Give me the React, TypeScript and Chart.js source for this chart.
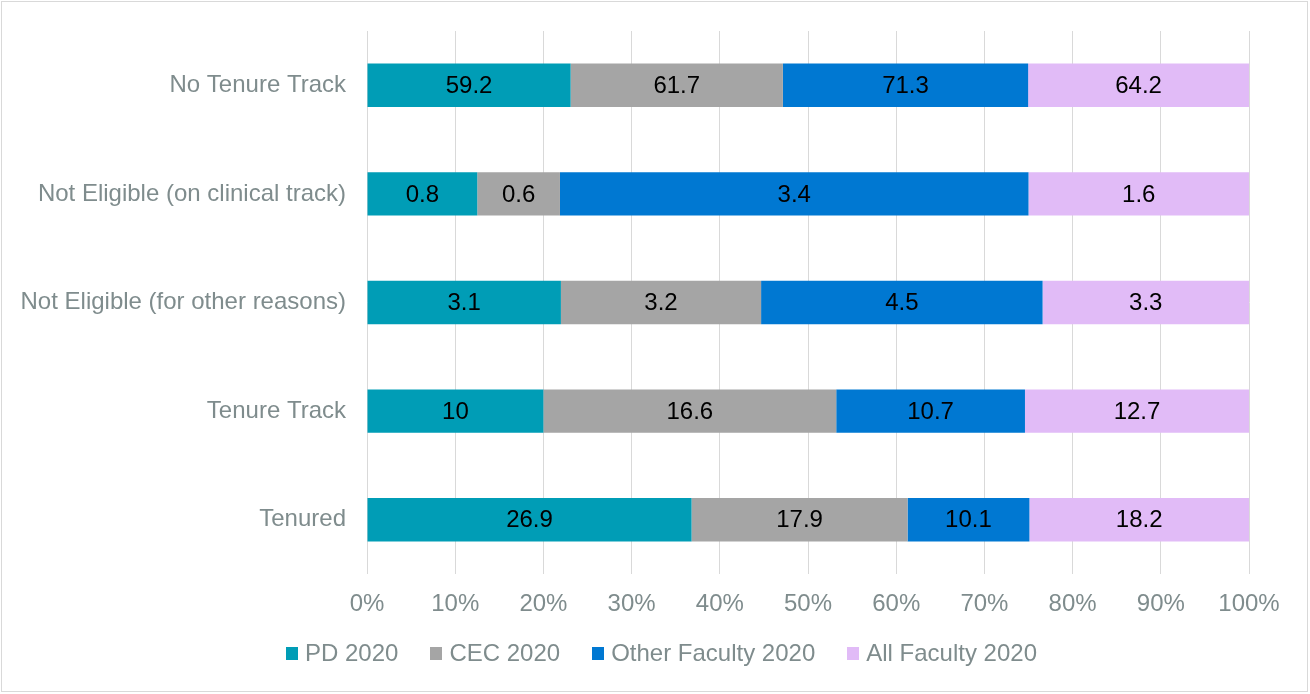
import React, { useEffect, useRef } from "react";
import { Chart, registerables } from "chart.js";

Chart.register(...registerables);

const categories = [
  "No Tenure Track",
  "Not Eligible (on clinical track)",
  "Not Eligible (for other reasons)",
  "Tenure Track",
  "Tenured",
];
const pd2020 = [59.2, 0.8, 3.1, 10, 26.9];
const cec2020 = [61.7, 0.6, 3.2, 16.6, 17.9];
const otherFaculty2020 = [71.3, 3.4, 4.5, 10.7, 10.1];
const allFaculty2020 = [64.2, 1.6, 3.3, 12.7, 18.2];
const xTickValues = [0, 10, 20, 30, 40, 50, 60, 70, 80, 90, 100];

const seriesNames = ["PD 2020", "CEC 2020", "Other Faculty 2020", "All Faculty 2020"];
const seriesColors = ["#009DB6", "#A5A5A5", "#0078D2", "#E1BBF7"];
const seriesRaw = [pd2020, cec2020, otherFaculty2020, allFaculty2020];

const FONT = "'Liberation Sans', Arial, sans-serif";
const TEXT_GRAY = "#7F8C8D";

const totals = categories.map((_, i) => seriesRaw.reduce((s, arr) => s + arr[i], 0));

const dataLabelPlugin = {
  id: "dataLabels",
  afterDatasetsDraw(chart: any) {
    const ctx = chart.ctx;
    ctx.save();
    ctx.font = `24px ${FONT}`;
    ctx.fillStyle = "#000000";
    ctx.textAlign = "center";
    ctx.textBaseline = "middle";
    chart.data.datasets.forEach((ds: any, di: number) => {
      const meta = chart.getDatasetMeta(di);
      meta.data.forEach((el: any, i: number) => {
        const raw = ds.rawValues[i];
        const cx = (el.x + el.base) / 2;
        ctx.fillText(String(raw), cx, el.y + 1);
      });
    });
    ctx.restore();
  },
};

export default function App() {
  const canvasRef = useRef<HTMLCanvasElement | null>(null);

  useEffect(() => {
    if (!canvasRef.current) return;
    const chart = new Chart(canvasRef.current, {
      type: "bar",
      data: {
        labels: categories,
        datasets: seriesRaw.map((arr, si) => ({
          label: seriesNames[si],
          data: arr.map((v, i) => (v / totals[i]) * 100),
          rawValues: arr,
          backgroundColor: seriesColors[si],
          borderWidth: 0,
          barPercentage: 0.4,
          categoryPercentage: 1,
        })) as any,
      },
      options: {
        indexAxis: "y",
        animation: false,
        responsive: false,
        maintainAspectRatio: false,
        layout: { padding: { top: 31, right: 61, left: 0, bottom: 0 } },
        plugins: {
          legend: { display: false },
          tooltip: { enabled: false },
        },
        scales: {
          x: {
            stacked: true,
            min: 0,
            max: 100,
            afterFit: (scale: any) => {
              scale.height = 120;
              scale.paddingLeft = 0;
              scale.paddingRight = 0;
            },
            afterBuildTicks: (scale: any) => {
              scale.ticks = xTickValues.map((v) => ({ value: v }));
            },
            grid: { color: "#D9D9D9", lineWidth: 1, drawTicks: false },
            border: { display: false },
            ticks: {
              padding: 16,
              color: TEXT_GRAY,
              font: { family: FONT, size: 24 },
              callback: (v: any) => `${v}%`,
              maxRotation: 0,
            },
          },
          y: {
            stacked: true,
            afterFit: (scale: any) => {
              scale.width = 367;
              scale.paddingTop = 0;
              scale.paddingBottom = 0;
            },
            grid: { display: false, drawTicks: false },
            border: { display: false },
            ticks: {
              padding: 21,
              color: TEXT_GRAY,
              font: { family: FONT, size: 24 },
            },
          },
        },
      } as any,
      plugins: [dataLabelPlugin],
    });
    return () => chart.destroy();
  }, []);

  return (
    <div style={{ position: "fixed", left: 0, top: 0, width: 1310, height: 694, background: "#FFFFFF" }}>
      <canvas ref={canvasRef} width={1310} height={694} style={{ position: "absolute", left: 0, top: 0 }} />
      <div
        style={{
          position: "absolute",
          left: 1,
          top: 1,
          width: 1307,
          height: 691,
          boxSizing: "border-box",
          border: "1px solid #D9D9D9",
          pointerEvents: "none",
        }}
      />
      <div
        style={{
          position: "absolute",
          left: 286,
          top: 641,
          display: "flex",
          alignItems: "center",
          height: 24,
          whiteSpace: "nowrap",
        }}
      >
        {seriesNames.map((name, i) => (
          <div key={name} style={{ display: "flex", alignItems: "center", marginRight: 32 }}>
            <span style={{ display: "inline-block", width: 12, height: 13, background: seriesColors[i], marginRight: 7 }} />
            <span style={{ fontFamily: FONT, fontSize: 24, color: TEXT_GRAY, lineHeight: "24px" }}>{name}</span>
          </div>
        ))}
      </div>
    </div>
  );
}
